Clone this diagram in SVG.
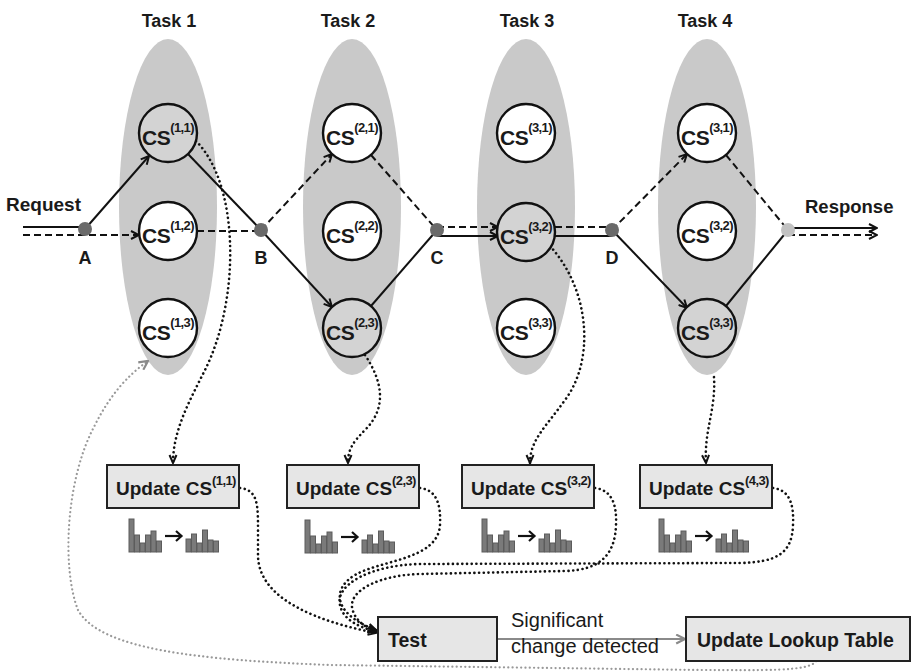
<svg xmlns="http://www.w3.org/2000/svg" xmlns:xlink="http://www.w3.org/1999/xlink" width="914" height="672" viewBox="0 0 914 672">
<style>
text{font-family:"Liberation Sans",Arial,sans-serif;fill:#1a1a1a}
.b{font-weight:bold}
.task{font-size:18px;font-weight:bold;text-anchor:middle}
.lane{fill:#c9c9c9}
.cs{stroke:#111;stroke-width:2.4;fill:#fff}
.csg{stroke:#111;stroke-width:2.4;fill:#d3d3d3}
.cst{font-size:21px;font-weight:bold;text-anchor:middle;letter-spacing:-0.5px}
.sup{font-size:13px;letter-spacing:-0.6px}
.dot{fill:#6a6a6a}
.sol{stroke:#111;stroke-width:2;fill:none}
.dsh{stroke:#111;stroke-width:2;fill:none;stroke-dasharray:7 4}
.dtd{stroke:#111;stroke-width:2.6;fill:none;stroke-dasharray:0.1 4.6;stroke-linecap:round}
.gdt{stroke:#999;stroke-width:2.2;fill:none;stroke-dasharray:0.1 4.2;stroke-linecap:round}
.box{fill:#e6e6e6;stroke:#222;stroke-width:2}
.ut{font-size:19px;font-weight:bold}
.bar{fill:#7a7a7a;stroke:#5c5c5c;stroke-width:1}
.lbl{font-size:18px;font-weight:bold;text-anchor:middle}
</style>
<defs>
<marker id="ah" viewBox="0 0 10 10" refX="9" refY="5" markerWidth="10" markerHeight="10" markerUnits="userSpaceOnUse" orient="auto"><path d="M1,1 L9,5 L1,9" fill="none" stroke="#111" stroke-width="2"/></marker>
<marker id="ahd" viewBox="0 0 10 10" refX="9" refY="5" markerWidth="10" markerHeight="10" markerUnits="userSpaceOnUse" orient="auto"><path d="M1,1.5 L9,5 L1,8.5" fill="none" stroke="#111" stroke-width="2"/></marker>
<marker id="ahg" viewBox="0 0 10 10" refX="9" refY="5" markerWidth="11" markerHeight="11" markerUnits="userSpaceOnUse" orient="auto"><path d="M1,1 L9,5 L1,9" fill="none" stroke="#8a8a8a" stroke-width="2"/></marker>
<g id="hist">
<rect class="bar" x="0" y="-33" width="5" height="33"/>
<rect class="bar" x="5.5" y="-17" width="5" height="17"/>
<rect class="bar" x="11" y="-9" width="5" height="9"/>
<rect class="bar" x="16.5" y="-17" width="5" height="17"/>
<rect class="bar" x="22" y="-21" width="5" height="21"/>
<rect class="bar" x="27.5" y="-11" width="5" height="11"/>
<line x1="36" y1="-16" x2="52" y2="-16" stroke="#111" stroke-width="2.2"/>
<path d="M47,-21 L52.5,-16 L47,-11" fill="none" stroke="#111" stroke-width="2.2"/>
<rect class="bar" x="57" y="-13" width="5" height="13"/>
<rect class="bar" x="62.5" y="-18" width="5" height="18"/>
<rect class="bar" x="68" y="-9" width="5" height="9"/>
<rect class="bar" x="73.5" y="-22" width="5" height="22"/>
<rect class="bar" x="79" y="-12" width="5" height="12"/>
<rect class="bar" x="84.5" y="-11" width="5" height="11"/>
</g>
</defs>
<rect width="914" height="672" fill="#fff"/>

<g id="lanes">
<ellipse class="lane" cx="168" cy="207" rx="49" ry="168"/>
<ellipse class="lane" cx="352" cy="207" rx="49" ry="168"/>
<ellipse class="lane" cx="526" cy="207" rx="49" ry="168"/>
<ellipse class="lane" cx="707" cy="207" rx="49" ry="168"/>
<text class="task" x="169" y="27">Task 1</text>
<text class="task" x="348" y="27">Task 2</text>
<text class="task" x="527" y="27">Task 3</text>
<text class="task" x="705" y="27">Task 4</text>
</g>

<g id="connectors">
<line class="sol" x1="23" y1="227" x2="85" y2="227"/>
<line class="dsh" x1="23" y1="235" x2="139" y2="235" marker-end="url(#ah)"/>
<line class="sol" x1="85" y1="229" x2="149" y2="156" marker-end="url(#ah)"/>
<line class="sol" x1="188" y1="154" x2="261" y2="230"/>
<line class="dsh" x1="197" y1="231" x2="261" y2="231"/>
<line class="dsh" x1="261" y1="230" x2="332" y2="154" marker-end="url(#ah)"/>
<line class="sol" x1="261" y1="230" x2="332" y2="307" marker-end="url(#ah)"/>
<line class="dsh" x1="371" y1="155" x2="437" y2="230"/>
<line class="sol" x1="371" y1="306" x2="437" y2="230"/>
<line class="dsh" x1="437" y1="227" x2="498" y2="227" marker-end="url(#ah)"/>
<line class="sol" x1="437" y1="236" x2="498" y2="236" marker-end="url(#ah)"/>
<line class="dsh" x1="555" y1="227" x2="612" y2="227"/>
<line class="sol" x1="554" y1="236" x2="612" y2="236"/>
<line class="dsh" x1="612" y1="230" x2="687" y2="154" marker-end="url(#ah)"/>
<line class="sol" x1="612" y1="230" x2="687" y2="308" marker-end="url(#ah)"/>
<line class="dsh" x1="726" y1="155" x2="788" y2="230"/>
<line class="sol" x1="726" y1="306" x2="788" y2="230"/>
<line class="sol" x1="788" y1="228" x2="877" y2="228" marker-end="url(#ah)"/>
<line class="dsh" x1="788" y1="235" x2="877" y2="235" marker-end="url(#ah)"/>
<path class="dtd" d="M196,141 C240,185 240,300 205,370 C190,400 173,430 173,463" marker-end="url(#ahd)"/>
<path class="dtd" d="M365,355 C385,385 385,410 365,430 C352,443 348,450 348,463" marker-end="url(#ahd)"/>
<path class="dtd" d="M550,246 C590,290 595,360 565,400 C545,428 530,440 530,463" marker-end="url(#ahd)"/>
<path class="dtd" d="M714,377 C716,410 704,430 706,463" marker-end="url(#ahd)"/>
<path class="dtd" d="M240,488 C258,490 258,505 258,530 L258,555 C258,600 320,622 376,633" marker-end="url(#ahd)"/>
<path class="dtd" d="M420,488 C437,490 441,505 440,525 C438,560 380,560 355,575 C330,590 335,615 376,630" marker-end="url(#ahd)"/>
<path class="dtd" d="M595,488 C612,490 617,505 616,525 C615,555 600,570 565,571 L420,574 C380,575 350,590 352,607 C354,620 365,627 376,632" marker-end="url(#ahd)"/>
<path class="dtd" d="M773,488 C790,490 794,505 793,525 C792,555 775,562 740,563 L420,564 C370,565 335,585 340,605 C343,620 360,628 376,631" marker-end="url(#ahd)"/>
<line x1="497" y1="639" x2="685" y2="639" stroke="#8a8a8a" stroke-width="2" marker-end="url(#ahg)"/>
<path class="gdt" d="M816,661 C810,672 760,670 700,670 L330,665 C200,660 100,650 78,610 C62,570 65,480 95,425 C110,395 128,375 148,361" marker-end="url(#ahg)"/>
</g>

<g id="junctions">
<circle class="dot" cx="85" cy="229" r="7"/>
<circle class="dot" cx="261" cy="230" r="7"/>
<circle class="dot" cx="437" cy="230" r="7"/>
<circle class="dot" cx="612" cy="230" r="7"/>
<circle cx="788" cy="230" r="7" fill="#c2c2c2"/>
<text class="lbl" x="85" y="264">A</text>
<text class="lbl" x="261" y="264">B</text>
<text class="lbl" x="437" y="264">C</text>
<text class="lbl" x="612" y="264">D</text>
<text class="b" x="6" y="211" font-size="19">Request</text>
<text class="b" x="805" y="213" font-size="18.5">Response</text>
</g>

<g id="cs11"><circle class="csg" cx="168" cy="133" r="29"/><text class="cst" x="168" y="145">CS<tspan class="sup" dy="-13">(1,1)</tspan></text></g>
<g id="cs12"><circle class="cs" cx="168" cy="231" r="29"/><text class="cst" x="168" y="243">CS<tspan class="sup" dy="-13">(1,2)</tspan></text></g>
<g id="cs13"><circle class="cs" cx="168" cy="328" r="29"/><text class="cst" x="168" y="340">CS<tspan class="sup" dy="-13">(1,3)</tspan></text></g>
<g id="cs21"><circle class="cs" cx="352" cy="133" r="29"/><text class="cst" x="352" y="145">CS<tspan class="sup" dy="-13">(2,1)</tspan></text></g>
<g id="cs22"><circle class="cs" cx="352" cy="231" r="29"/><text class="cst" x="352" y="243">CS<tspan class="sup" dy="-13">(2,2)</tspan></text></g>
<g id="cs23"><circle class="csg" cx="352" cy="328" r="29"/><text class="cst" x="352" y="340">CS<tspan class="sup" dy="-13">(2,3)</tspan></text></g>
<g id="cs31"><circle class="cs" cx="526" cy="133" r="29"/><text class="cst" x="526" y="145">CS<tspan class="sup" dy="-13">(3,1)</tspan></text></g>
<g id="cs32"><circle class="csg" cx="526" cy="232" r="29"/><text class="cst" x="526" y="244">CS<tspan class="sup" dy="-13">(3,2)</tspan></text></g>
<g id="cs33"><circle class="cs" cx="526" cy="328" r="29"/><text class="cst" x="526" y="340">CS<tspan class="sup" dy="-13">(3,3)</tspan></text></g>
<g id="t4cs31"><circle class="cs" cx="707" cy="133" r="29"/><text class="cst" x="707" y="145">CS<tspan class="sup" dy="-13">(3,1)</tspan></text></g>
<g id="t4cs32"><circle class="cs" cx="707" cy="231" r="29"/><text class="cst" x="707" y="243">CS<tspan class="sup" dy="-13">(3,2)</tspan></text></g>
<g id="t4cs33"><circle class="csg" cx="707" cy="328" r="29"/><text class="cst" x="707" y="340">CS<tspan class="sup" dy="-13">(3,3)</tspan></text></g>

<g id="upd11"><rect class="box" x="107" y="465" width="132" height="43"/><text class="ut" x="116" y="495">Update CS<tspan class="sup" dy="-10">(1,1)</tspan></text><use xlink:href="#hist" x="129" y="552"/></g>
<g id="upd23"><rect class="box" x="287" y="465" width="132" height="43"/><text class="ut" x="296" y="495">Update CS<tspan class="sup" dy="-10">(2,3)</tspan></text><use xlink:href="#hist" x="305" y="553"/></g>
<g id="upd32"><rect class="box" x="462" y="465" width="132" height="43"/><text class="ut" x="471" y="495">Update CS<tspan class="sup" dy="-10">(3,2)</tspan></text><use xlink:href="#hist" x="482" y="552"/></g>
<g id="upd43"><rect class="box" x="640" y="465" width="132" height="43"/><text class="ut" x="649" y="495">Update CS<tspan class="sup" dy="-10">(4,3)</tspan></text><use xlink:href="#hist" x="659" y="552"/></g>

<g id="test"><rect class="box" x="378" y="617" width="119" height="44"/><text class="b" x="388" y="647" font-size="19.5">Test</text></g>
<g id="change-label"><text x="511" y="627" font-size="20" fill="#333">Significant</text><text x="511" y="653" font-size="20" fill="#333">change detected</text></g>
<g id="lookup"><rect class="box" x="686" y="617" width="224" height="44"/><text class="b" x="697" y="647" font-size="19.5">Update Lookup Table</text></g>
</svg>
